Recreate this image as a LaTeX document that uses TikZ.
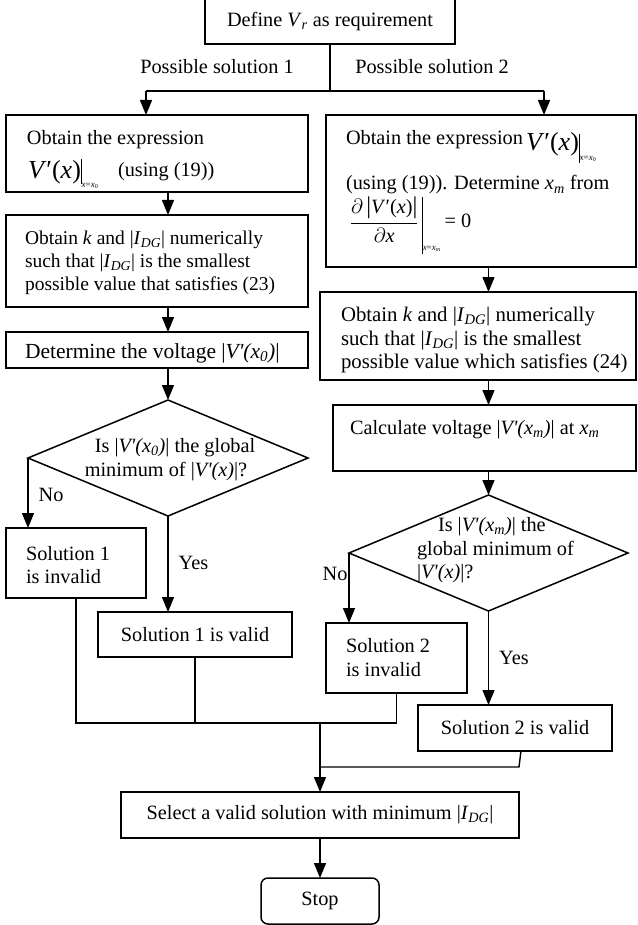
\documentclass[tikz,border=0pt]{standalone}
\usepackage{fontspec}
\setmainfont{Liberation Serif}
\usetikzlibrary{arrows.meta,shapes.geometric}
\newcommand{\Vpx}[1]{|\textit{V\textquotesingle(#1)}|}
\newcommand{\IDG}{|\textit{I}\textsubscript{\textit{DG}}|}
\newcommand{\bigV}{{\fontsize{26}{26}\selectfont\textit{V}′(\textit{x})}}
\begin{document}
\begin{tikzpicture}[x=1pt,y=-1pt,
  every node/.style={font=\fontsize{20.3}{23.3}\selectfont, inner sep=0pt, outer sep=0pt},
  box/.style={draw, line width=1.5pt, align=left},
  cbox/.style={draw, line width=1.5pt, align=center},
  dia/.style={diamond, draw, line width=1.5pt, inner sep=0pt},
  txt/.style={anchor=base west},
  small/.style={anchor=base west, font=\fontsize{19.5}{23}\selectfont},
  wide/.style={anchor=base west, font=\fontsize{20.8}{24}\selectfont},
  conn/.style={line width=1.4pt},
  arr/.style={line width=1.4pt, -{Triangle[length=15pt,width=12pt]}},
  lbl/.style={anchor=base}]
\useasboundingbox (0,0) rectangle (637,925);

% ---- top
\node[cbox, minimum width=250pt, minimum height=45pt] (T) at (330,21.5) {Define \textit{V}\textsubscript{\textit{r}} as requirement};
\node[lbl] (ps1) at (217,74) {Possible solution 1};
\node[lbl] (ps2) at (432,74) {Possible solution 2};

% ---- left column
\node[box, minimum width=302pt, minimum height=77pt] (L1) at (157,153.5) {};
\node[txt] (L1a) at (27,145) {Obtain the expression};
\node[txt] (L1b) at (28,177) {\makebox[90pt][l]{\raisebox{-2pt}{\bigV}\rule[-7pt]{0.8pt}{25pt}\raisebox{-11pt}{\fontsize{9}{9}\selectfont\textit{x}=\textit{x}\textsubscript{0}}}(using (19))};

\node[box, minimum width=302pt, minimum height=92pt] (L2) at (157,261) {};
\node[small] (L2a) at (25,244) {Obtain \textit{k} and \IDG{} numerically};
\node[small] (L2b) at (25,267) {such that \IDG{} is the smallest};
\node[small] (L2c) at (25,290) {possible value that satisfies (23)};

\node[box, minimum width=302pt, minimum height=36pt] (L3) at (157,350) {};
\node[txt, font=\fontsize{21.5}{24}\selectfont] (L3a) at (25,358) {Determine the voltage \Vpx{x\textsubscript{0}}};

\node[dia, minimum width=280pt, minimum height=116pt] (D1) at (168,458) {};
\node[lbl] (D1a) at (175,452) {Is \Vpx{x\textsubscript{0}} the global};
\node[lbl] (D1b) at (166,476) {minimum of \Vpx{x}?};

\node[box, minimum width=140pt, minimum height=70pt] (I1) at (76,563) {};
\node[txt] (I1a) at (26,560) {Solution 1};
\node[txt] (I1b) at (26,583) {is invalid};
\node[cbox, minimum width=194pt, minimum height=45pt] (V1) at (195,634.5) {Solution 1 is valid};
\node[lbl] (no1) at (51,501) {No};
\node[lbl] (yes1) at (193.5,569) {Yes};

% ---- right column
\node[box, minimum width=310pt, minimum height=152pt] (R1) at (481,191) {};
\node[txt] (R1a) at (346,145) {\makebox[180pt][l]{Obtain the expression}\raisebox{-6pt}{\bigV}\rule[-18pt]{0.8pt}{29pt}\raisebox{-16pt}{\fontsize{9}{9}\selectfont\textit{x}=\textit{x}\textsubscript{0}}};
\node[txt] (R1b) at (346,190) {(using (19)). Determine \textit{x}\textsubscript{\textit{m}} from};
\node[txt] (R1c) at (350,228) {$\displaystyle\frac{\mbox{$\partial$\,{\fontsize{24}{24}\selectfont|}\textit{V}′(\textit{x}){\fontsize{24}{24}\selectfont|}}}{\mbox{$\partial$\textit{x}}}$\,\rule[-26pt]{0.8pt}{57pt}\raisebox{-23pt}{\fontsize{9}{9}\selectfont\textit{x}=\textit{x}\textsubscript{\textit{m}}}\hspace{4pt}= 0};

\node[box, minimum width=316pt, minimum height=88pt] (R2) at (478,336) {};
\node[wide] (R2a) at (341,321) {Obtain \textit{k} and \IDG{} numerically};
\node[wide] (R2b) at (341,345) {such that \IDG{} is the smallest};
\node[wide] (R2c) at (341,368.5) {possible value which satisfies (24)};

\node[box, minimum width=303pt, minimum height=66pt] (R3) at (484.5,438) {};
\node[txt] (R3a) at (350,434) {Calculate voltage \Vpx{x\textsubscript{\textit{m}}} at \textit{x}\textsubscript{\textit{m}}};

\node[dia, minimum width=279pt, minimum height=116pt] (D2) at (488.5,553) {};
\node[txt] (D2a) at (438,531) {Is \Vpx{x\textsubscript{\textit{m}}} the};
\node[txt] (D2b) at (417,555) {global minimum of};
\node[txt] (D2c) at (417,578) {\Vpx{x}?};

\node[box, minimum width=141pt, minimum height=70pt] (I2) at (396.5,658) {};
\node[txt] (I2a) at (346,652) {Solution 2};
\node[txt] (I2b) at (346,676) {is invalid};
\node[cbox, minimum width=194pt, minimum height=46pt] (V2) at (515,728) {Solution 2 is valid};
\node[lbl] (no2) at (335,580) {No};
\node[lbl] (yes2) at (514,664) {Yes};

% ---- bottom
\node[cbox, minimum width=398pt, minimum height=46pt] (S) at (320,815) {Select a valid solution with minimum \IDG};
\node[cbox, rounded corners=7pt, minimum width=118pt, minimum height=46pt] (Stop) at (320,901) {Stop};

% ---- connectors
\coordinate (brL) at (146,91);
\coordinate (brR) at (544,91);
\coordinate (cL) at (168,0);
\coordinate (cR) at (488.5,0);
\coordinate (j) at (320,723);
\coordinate (j2) at (320,767);
\coordinate (k) at (519,767);
\coordinate (v2b) at (521,751);

\draw[conn] (T.south) -- (T.south |- brL);
\draw[conn] (brL) -- (brR);
\draw[arr] (brL) -- (brL |- L1.north);
\draw[arr] (brR) -- (brR |- R1.north);

\draw[arr] (cL |- L1.south) -- (cL |- L2.north);
\draw[arr] (cL |- L2.south) -- (cL |- L3.north);
\draw[arr] (cL |- L3.south) -- (D1.north);
\draw[arr] (D1.west) -- (D1.west |- I1.north);
\draw[arr] (D1.south) -- (D1.south |- V1.north);

\draw[arr] (cR |- R1.south) -- (cR |- R2.north);
\draw[arr] (cR |- R2.south) -- (cR |- R3.north);
\draw[arr] (cR |- R3.south) -- (D2.north);
\draw[arr] (D2.west) -- (D2.west |- I2.north);
\draw[arr] (D2.south) -- (D2.south |- V2.north);

\draw[conn] (I1.south) -- (I1.south |- j) -- (I2.south |- j) -- (I2.south);
\draw[conn] (V1.south) -- (V1.south |- j);
\draw[arr] (j) -- (j |- S.north);
\draw[conn] (j2) -- (k) -- (v2b);
\draw[arr] (S.south) -- (Stop.north);
\end{tikzpicture}
\end{document}
